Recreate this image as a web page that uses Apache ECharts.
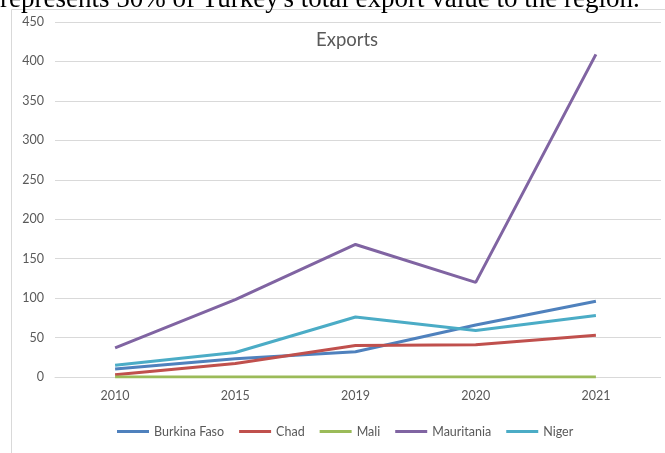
<!DOCTYPE html>
<html><head><meta charset="utf-8">
<script src="https://cdn.jsdelivr.net/npm/echarts@6/dist/echarts.min.js"></script>
<style>html,body{margin:0;padding:0;background:#fff}#c{width:665px;height:453px}</style>
</head><body><div id="c"></div>
<script>
const years = ['2010','2015','2019','2020','2021'];
const burkinaFaso = [10, 23, 32, 66, 96];
const chad = [3, 17, 40, 41, 53];
const mali = [0, 0, 0, 0, 0];
const mauritania = [37, 98, 168, 120, 409];
const niger = [15, 31, 76, 59, 78];
const seriesNames = ['Burkina Faso','Chad','Mali','Mauritania','Niger'];
const seriesData = [burkinaFaso, chad, mali, mauritania, niger];
const colors = ['#4F81BD','#C0504D','#9BBB59','#8064A2','#4BACC6'];

const chart = echarts.init(document.getElementById('c'));
const font = 'Lato, "Open Sans", sans-serif';
chart.setOption({
  animation: false,
  color: colors,
  title: {text: 'Exports', left: 311, top: 26,
    textStyle: {fontFamily: font, fontSize: 18.5, fontWeight: 'normal', color: '#595959'}},
  graphic: [
    {type: 'rect', shape: {x: 11.5, y: 9.5, width: 700, height: 500}, style: {fill: 'none', stroke: '#d9d9d9', lineWidth: 1}, z: 0},
    {type: 'text', x: 0, y: 13, style: {text: "represents 50% of Turkey's total export value to the region.", font: '27px "Liberation Serif", serif', fill: '#000', verticalAlign: 'bottom'}}
  ],
  grid: [
    {left: 55, top: 22, width: 606, height: 355},
    {left: 55, top: 22, width: 601, height: 355}
  ],
  legend: {bottom: 10, left: 112, itemWidth: 32, itemHeight: 3, itemGap: 15, icon: 'rect',
    textStyle: {fontFamily: font, fontSize: 12.5, color: '#595959'}, data: seriesNames},
  xAxis: [
    {type: 'value', gridIndex: 0, min: 0, max: 1, show: false},
    {type: 'category', gridIndex: 1, data: years, boundaryGap: true,
      axisLine: {lineStyle: {color: '#d9d9d9'}}, axisTick: {show: false},
      axisLabel: {fontFamily: font, fontSize: 12.5, color: '#595959', margin: 12}}
  ],
  yAxis: [
    {type: 'value', gridIndex: 0, min: 0, max: 450, interval: 50,
      axisLine: {show: false}, axisTick: {show: false},
      splitLine: {lineStyle: {color: '#d9d9d9'}},
      axisLabel: {fontFamily: font, fontSize: 12.5, color: '#595959', margin: 11}},
    {type: 'value', gridIndex: 1, min: 0, max: 450, interval: 50, show: false, splitLine: {show: false}}
  ],
  series: seriesNames.map((n, i) => ({name: n, type: 'line', xAxisIndex: 1, yAxisIndex: 1, data: seriesData[i], showSymbol: false, symbol: 'none',
    lineStyle: {width: 3, color: colors[i]}, itemStyle: {color: colors[i]}}))
});
</script></body></html>
